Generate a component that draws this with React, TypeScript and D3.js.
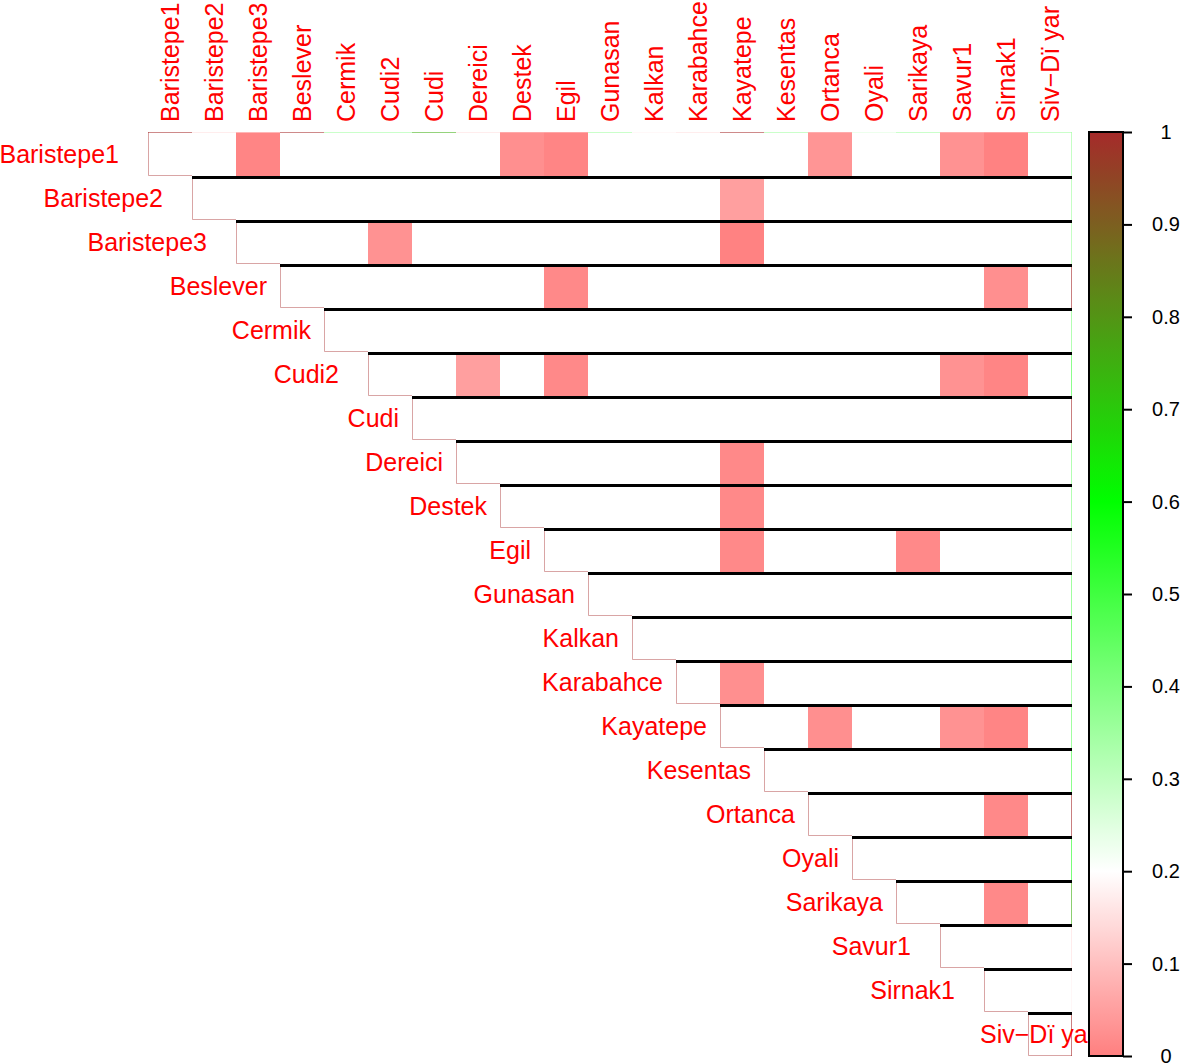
import React, { useEffect, useRef } from "react";
import * as d3 from "d3";

// populations, in matrix order
const populations = [
  "Baristepe1", "Baristepe2", "Baristepe3", "Beslever", "Cermik", "Cudi2", "Cudi",
  "Dereici", "Destek", "Egil", "Gunasan", "Kalkan", "Karabahce", "Kayatepe",
  "Kesentas", "Ortanca", "Oyali", "Sarikaya", "Savur1", "Sirnak1", "Siv\u2212D\u00ef yar",
];

// coloured (low) pairwise values in the upper triangle, [row, col, value]; every other cell is blank
const pairValues: [number, number, number][] = [
  [0, 2, 0.01], [0, 8, 0.025], [0, 9, 0.01], [0, 15, 0.035], [0, 18, 0.03], [0, 19, 0.005],
  [1, 13, 0.05],
  [2, 5, 0.03], [2, 13, 0.005],
  [3, 9, 0.015], [3, 19, 0.025],
  [5, 7, 0.05], [5, 9, 0.015], [5, 18, 0.03], [5, 19, 0.01],
  [7, 13, 0.015],
  [8, 13, 0.015],
  [9, 13, 0.015], [9, 17, 0.015],
  [12, 13, 0.025],
  [13, 15, 0.025], [13, 18, 0.03], [13, 19, 0.01],
  [15, 19, 0.015],
  [17, 19, 0.015],
];

// thin edge colours along the top of the matrix (per column) and its right side (per row)
const edgeTop = [1, 0.15, 0.15, 1, 0.35, 0.35, 0.75, 0.15, 0.1, 0.1, 0.35,
  0.18, 0.15, 1, 0.35, 0.1, 0.25, 0.35, 0.1, 0.1, 0.35];
const edgeRight = [0.35, 0.35, 0.35, 1, 0.4, 0.5, 1, 0.4, 0.4, 0.3, 0.45,
  0.5, 0.4, 0.45, 0.5, 1, 0.55, 0.75, 0.15, 0.18, 1];

const colorTicks = [0, 0.1, 0.2, 0.3, 0.4, 0.5, 0.6, 0.7, 0.8, 0.9, 1];

const App = () => {
  const ref = useRef<SVGSVGElement>(null);

  useEffect(() => {
    const width = 1181;
    const height = 1064;
    const grid = { left: 148, right: 1072, top: 132, bottom: 1056 };
    const font = "'Liberation Sans', Arial, Helvetica, sans-serif";

    const svg = d3.select(ref.current);
    svg.selectAll("*").remove();
    svg.attr("width", width).attr("height", height);

    const x = d3.scaleBand().domain(populations).range([grid.left, grid.right]);
    const y = d3.scaleBand().domain(populations).range([grid.top, grid.bottom]);
    const bw = x.bandwidth();

    const color = d3
      .scaleLinear<string>()
      .domain([0, 0.2, 0.6, 1])
      .range(["#ff7f7f", "#ffffff", "#00ff00", "#a52a2a"])
      .interpolate(d3.interpolateRgb);

    // upper triangle blank cells
    const cells: { r: number; c: number }[] = [];
    populations.forEach((_, r) => {
      for (let c = r; c < populations.length; c++) cells.push({ r, c });
    });
    svg
      .append("g")
      .selectAll("rect")
      .data(cells)
      .enter()
      .append("rect")
      .attr("x", (d) => x(populations[d.c])!)
      .attr("y", (d) => y(populations[d.r])!)
      .attr("width", bw)
      .attr("height", bw)
      .attr("fill", "#ffffff");

    // coloured cells
    svg
      .append("g")
      .selectAll("rect")
      .data(pairValues)
      .enter()
      .append("rect")
      .attr("x", (d) => x(populations[d[1]])!)
      .attr("y", (d) => y(populations[d[0]])!)
      .attr("width", bw)
      .attr("height", bw)
      .attr("fill", (d) => color(d[2]));

    // diagonal cell outlines (left + bottom)
    svg
      .append("g")
      .selectAll("path")
      .data(populations)
      .enter()
      .append("path")
      .attr("d", (p) => {
        const x0 = x(p)!;
        const y0 = y(p)!;
        return `M${x0 + 0.5},${y0}V${y0 + bw - 0.5}H${x0 + bw}`;
      })
      .attr("fill", "none")
      .attr("stroke", "#c97f7f")
      .attr("stroke-opacity", 0.7)
      .attr("stroke-width", 1);

    // top and right edges
    svg
      .append("g")
      .selectAll("line")
      .data(edgeTop)
      .enter()
      .append("line")
      .attr("x1", (_, i) => x(populations[i])!)
      .attr("x2", (_, i) => x(populations[i])! + bw)
      .attr("y1", grid.top + 0.5)
      .attr("y2", grid.top + 0.5)
      .attr("stroke", (d) => color(d))
      .attr("stroke-opacity", 0.55);
    svg
      .append("g")
      .selectAll("line")
      .data(edgeRight)
      .enter()
      .append("line")
      .attr("x1", grid.right - 0.5)
      .attr("x2", grid.right - 0.5)
      .attr("y1", (_, i) => y(populations[i])!)
      .attr("y2", (_, i) => y(populations[i])! + bw)
      .attr("stroke", (d) => color(d))
      .attr("stroke-opacity", 0.6);

    // thick black row separators
    svg
      .append("g")
      .selectAll("line")
      .data(populations.slice(1))
      .enter()
      .append("line")
      .attr("x1", (p) => x(p)!)
      .attr("x2", grid.right)
      .attr("y1", (p) => y(p)! + 1.5)
      .attr("y2", (p) => y(p)! + 1.5)
      .attr("stroke", "#000")
      .attr("stroke-width", 3);

    // column labels
    svg
      .append("g")
      .selectAll("text")
      .data(populations)
      .enter()
      .append("text")
      .attr("transform", (p) => `translate(${x(p)! + bw / 2},${grid.top - 10}) rotate(-90)`)
      .attr("dy", "0.35em")
      .attr("fill", "#ff0000")
      .attr("font-family", font)
      .attr("font-size", 25)
      .text((p) => p);

    // row labels
    const last = populations.length - 1;
    svg
      .append("g")
      .selectAll("text")
      .data(populations)
      .enter()
      .append("text")
      .attr("x", (p, i) => {
        if (i === last) return x(p)! - 48;
        return x(p)! - (/\d$/.test(p) ? 29 : 13);
      })
      .attr("y", (p) => y(p)! + bw / 2)
      .attr("dy", "0.35em")
      .attr("text-anchor", (_, i) => (i === last ? "start" : "end"))
      .attr("fill", "#ff0000")
      .attr("font-family", font)
      .attr("font-size", 25)
      .text((p) => p);

    // colour bar
    const bar = { x: 1089, w: 34 };
    const cy = d3.scaleLinear().domain([0, 1]).range([grid.bottom, grid.top]);
    const grad = svg
      .append("defs")
      .append("linearGradient")
      .attr("id", "cbar")
      .attr("x1", 0)
      .attr("x2", 0)
      .attr("y1", 1)
      .attr("y2", 0);
    d3.range(0, 1.0001, 0.02).forEach((v) => {
      grad.append("stop").attr("offset", v).attr("stop-color", color(v));
    });
    svg
      .append("rect")
      .attr("x", bar.x)
      .attr("y", cy(1))
      .attr("width", bar.w)
      .attr("height", cy(0) - cy(1))
      .attr("fill", "url(#cbar)")
      .attr("stroke", "#000")
      .attr("stroke-width", 2);

    const axis = svg
      .append("g")
      .attr("transform", `translate(${bar.x + bar.w},0)`)
      .call(
        d3
          .axisRight(cy)
          .tickValues(colorTicks)
          .tickSize(9)
          .tickPadding(22)
          .tickFormat((d) => d3.format("~g")(d as number))
      );
    axis.select(".domain").remove();
    axis.selectAll(".tick line").attr("stroke", "#000").attr("stroke-width", 2);
    axis
      .selectAll(".tick text")
      .attr("text-anchor", "middle")
      .attr("x", 43)
      .attr("fill", "#000")
      .attr("font-family", font)
      .attr("font-size", 20);
  }, []);

  return (
    <svg
      ref={ref}
      style={{ position: "absolute", left: 0, top: 0, background: "#fff" }}
    />
  );
};

export default App;
